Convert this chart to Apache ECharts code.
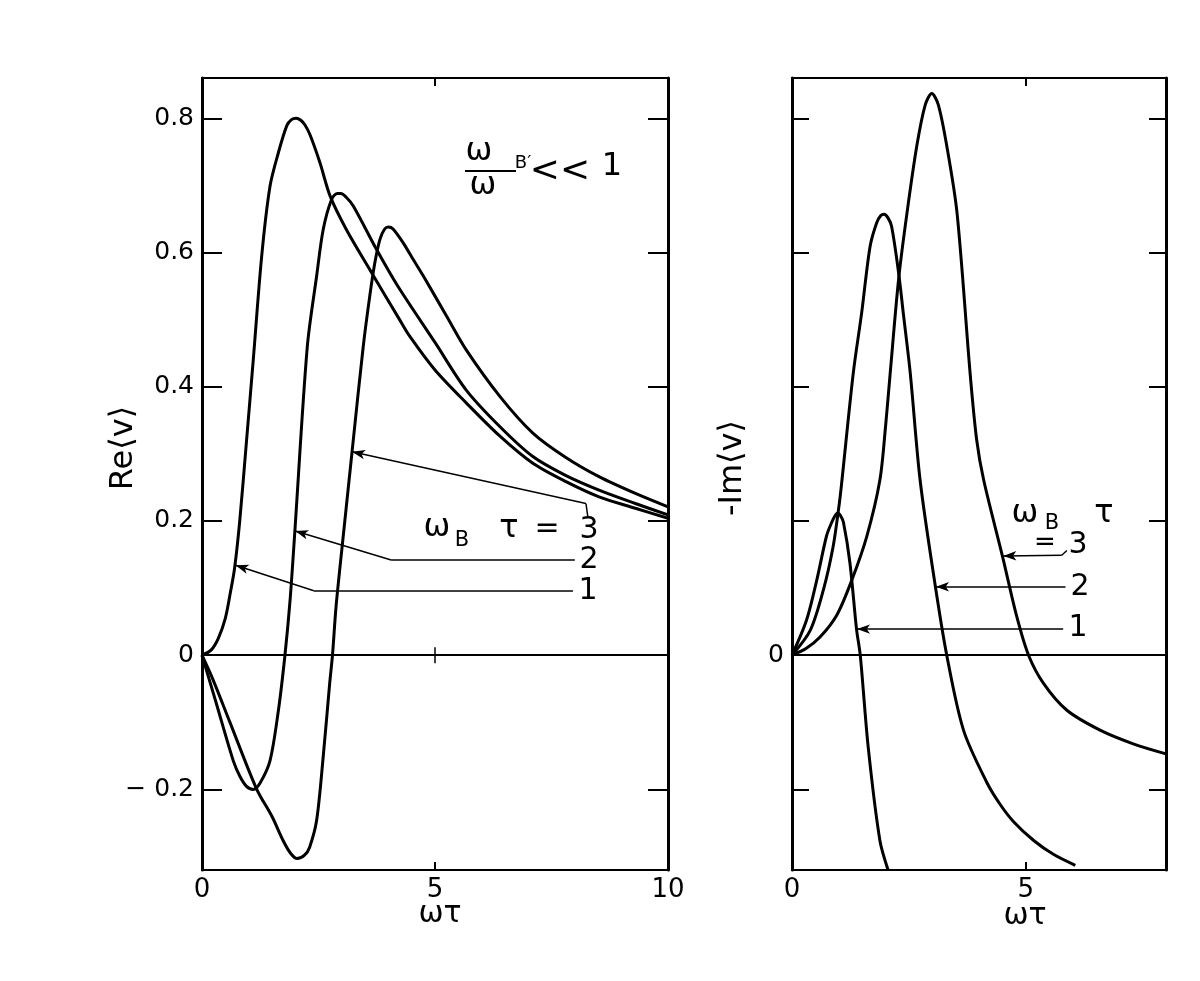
<!DOCTYPE html>
<html>
<head>
<meta charset="utf-8">
<script src="https://cdn.jsdelivr.net/npm/echarts@6.0.0/dist/echarts.min.js"></script>
<style>
  html, body { margin: 0; padding: 0; background: #fff; }
  #chart { width: 1200px; height: 981px; }
</style>
</head>
<body>
<div id="chart"></div>
<script>
// left panel: Re<v> against wt, one curve for each wB*tau
const reX1 = [0, 0.2, 0.35, 0.5, 0.6, 0.7, 0.81, 0.95, 1.1, 1.28, 1.46, 1.64, 1.82, 1.92, 2.02, 2.12, 2.21, 2.32, 2.53, 2.75, 3.1, 3.64, 4.24, 4.46, 5.0, 5.67, 6.4, 7.1, 7.8, 8.52, 9.3, 10];
const reY1 = [0, 0.008, 0.025, 0.055, 0.09, 0.13, 0.2, 0.315, 0.44, 0.594, 0.699, 0.749, 0.789, 0.798, 0.8, 0.797, 0.79, 0.775, 0.734, 0.684, 0.634, 0.57, 0.5, 0.475, 0.425, 0.376, 0.326, 0.286, 0.259, 0.236, 0.219, 0.204];

const reX2 = [0, 0.3, 0.67, 0.81, 0.95, 1.1, 1.25, 1.46, 1.64, 1.78, 1.89, 1.99, 2.26, 2.46, 2.6, 2.78, 2.9, 2.98, 3.1, 3.25, 3.75, 4.2, 5.0, 5.67, 6.4, 7.1, 7.8, 8.52, 9.3, 10];
const reY2 = [0, -0.07, -0.157, -0.18, -0.195, -0.2, -0.19, -0.157, -0.082, 0, 0.082, 0.182, 0.46, 0.565, 0.634, 0.679, 0.688, 0.688, 0.682, 0.669, 0.604, 0.55, 0.466, 0.395, 0.34, 0.296, 0.268, 0.246, 0.226, 0.209];

const reX3 = [0, 0.24, 0.6, 1.17, 1.5, 1.74, 1.9, 2.04, 2.2, 2.31, 2.46, 2.6, 2.74, 2.8, 2.88, 3.05, 3.22, 3.46, 3.6, 3.71, 3.82, 3.92, 4.0, 4.1, 4.32, 4.53, 4.75, 5.25, 5.67, 6.4, 7.1, 7.8, 8.52, 9.3, 10];
const reY3 = [0, -0.037, -0.1, -0.199, -0.24, -0.276, -0.295, -0.303, -0.298, -0.286, -0.246, -0.152, -0.042, 0, 0.075, 0.19, 0.303, 0.46, 0.535, 0.585, 0.62, 0.635, 0.638, 0.635, 0.614, 0.59, 0.565, 0.505, 0.455, 0.385, 0.331, 0.295, 0.266, 0.241, 0.221];

// right panel: -Im<v> against wt
const imX1 = [0, 0.31, 0.53, 0.74, 0.85, 0.93, 0.98, 1.03, 1.1, 1.24, 1.38, 1.46, 1.63, 1.88, 2.06];
const imY1 = [0, 0.052, 0.112, 0.178, 0.198, 0.209, 0.212, 0.209, 0.198, 0.137, 0.039, 0, -0.137, -0.276, -0.321];

const imX2 = [0, 0.39, 0.67, 0.88, 1.01, 1.06, 1.31, 1.49, 1.67, 1.81, 1.9, 1.97, 2.05, 2.13, 2.28, 2.38, 2.53, 2.74, 3.05, 3.31, 3.67, 4.17, 4.45, 4.74, 5.17, 5.6, 6.06];
const imY2 = [0, 0.037, 0.097, 0.162, 0.225, 0.255, 0.42, 0.51, 0.609, 0.644, 0.655, 0.657, 0.652, 0.639, 0.57, 0.51, 0.42, 0.261, 0.11, 0, -0.112, -0.19, -0.222, -0.248, -0.276, -0.297, -0.313];

const imX3 = [0, 0.3, 0.6, 0.96, 1.28, 1.6, 1.88, 2.0, 2.1, 2.28, 2.46, 2.67, 2.85, 2.99, 3.13, 3.31, 3.53, 3.81, 3.95, 4.1, 4.5, 4.81, 5.06, 5.38, 5.88, 6.6, 7.3, 8.0];
const imY3 = [0, 0.01, 0.027, 0.06, 0.112, 0.177, 0.261, 0.34, 0.42, 0.56, 0.659, 0.759, 0.82, 0.837, 0.82, 0.759, 0.659, 0.42, 0.321, 0.261, 0.148, 0.057, 0, -0.042, -0.082, -0.112, -0.132, -0.147];

// tick values
const yTicks = [-0.2, 0.2, 0.4, 0.6, 0.8];
const yLabelsLeft = [-0.2, 0, 0.2, 0.4, 0.6, 0.8];
const yLabelsRight = [0];
const xLabelsLeft = [0, 5, 10];
const xLabelsRight = [0, 5];

// leader lines, in data units (tip first)
const reLeader3 = [[3.22, 0.303], [8.24, 0.226], [8.28, 0.206]];
const reLeader2 = [[2.0, 0.185], [4.06, 0.142], [8.0, 0.142]];
const reLeader1 = [[0.72, 0.134], [2.4, 0.096], [7.96, 0.096]];
const imLeader3 = [[4.52, 0.148], [5.77, 0.149], [5.88, 0.156]];
const imLeader2 = [[3.08, 0.102], [5.85, 0.102]];
const imLeader1 = [[1.39, 0.039], [5.8, 0.039]];

function zip(xs, ys) {
  return xs.map((x, i) => [x, ys[i]]);
}

// one polyline -> markLine segments, arrow head on the tip
function leader(pts) {
  let segs = [];
  for (let i = 0; i < pts.length - 1; i++) {
    segs.push([
      {coord: pts[i], symbol: i === 0 ? 'arrow' : 'none', symbolSize: [7, 13]},
      {coord: pts[i + 1], symbol: 'none'}
    ]);
  }
  return segs;
}

const FONT = '"DejaVu Sans", sans-serif';

function xAxisFor(grid, pos, max, labels) {
  return {
    type: 'value', gridIndex: grid, position: pos, min: 0, max: max,
    axisLine: {show: true, onZero: false, lineStyle: {color: '#000', width: 2}},
    axisTick: {show: true, inside: true, length: 8, customValues: [5], lineStyle: {color: '#000', width: 2}},
    axisLabel: labels ? {show: true, customValues: labels, color: '#000', fontSize: 26, fontFamily: FONT, margin: 7} : {show: false},
    splitLine: {show: false}
  };
}

function yAxisFor(grid, pos, tickLen, labels) {
  return {
    type: 'value', gridIndex: grid, position: pos, min: -0.32, max: 0.86,
    axisLine: {show: true, onZero: false, lineStyle: {color: '#000', width: 3}},
    axisTick: {show: true, inside: true, length: tickLen, customValues: yTicks, lineStyle: {color: '#000', width: 2}},
    axisLabel: labels ? {
      show: true, customValues: labels, color: '#000', fontSize: 25, fontFamily: FONT, margin: 8,
      formatter: v => v === 0 ? '0' : (v < 0 ? '\u2212 ' + Math.abs(v).toFixed(1) : v.toFixed(1))
    } : {show: false},
    splitLine: {show: false}
  };
}

function curve(name, xi, yi, data, mark) {
  let s = {
    name: name, type: 'line', xAxisIndex: xi, yAxisIndex: yi,
    data: data, showSymbol: false, smooth: 0.3,
    lineStyle: {color: '#000', width: 3}
  };
  if (mark) s.markLine = mark;
  return s;
}

function marks(lines, extra) {
  return {
    silent: true, animation: false, symbol: ['none', 'none'],
    label: {show: false},
    lineStyle: {color: '#000', width: 1.5, type: 'solid'},
    data: [{yAxis: 0, lineStyle: {width: 2}}].concat(extra || []).concat(lines)
  };
}

function txt(x, y, text, size, extra) {
  return Object.assign({
    type: 'text', x: x, y: y,
    style: {text: text, font: size + 'px ' + FONT, fill: '#000', align: 'center', verticalAlign: 'middle'}
  }, extra || {});
}

let option = {
  animation: false,
  backgroundColor: '#fff',
  grid: [
    {left: 202, top: 78, width: 466, height: 792},
    {left: 792, top: 78, width: 374, height: 792}
  ],
  xAxis: [
    xAxisFor(0, 'bottom', 10, xLabelsLeft),
    xAxisFor(0, 'top', 10, null),
    xAxisFor(1, 'bottom', 8, xLabelsRight),
    xAxisFor(1, 'top', 8, null)
  ],
  yAxis: [
    yAxisFor(0, 'left', 20, yLabelsLeft),
    yAxisFor(0, 'right', 20, null),
    yAxisFor(1, 'left', 17, yLabelsRight),
    yAxisFor(1, 'right', 17, null)
  ],
  series: [
    curve('re1', 0, 0, zip(reX1, reY1), marks(
      [].concat(leader(reLeader3), leader(reLeader2), leader(reLeader1)),
      [[{coord: [5, -0.012]}, {coord: [5, 0.012]}]]
    )),
    curve('re2', 0, 0, zip(reX2, reY2)),
    curve('re3', 0, 0, zip(reX3, reY3)),
    curve('im1', 2, 2, zip(imX1, imY1), marks(
      [].concat(leader(imLeader3), leader(imLeader2), leader(imLeader1))
    )),
    curve('im2', 2, 2, zip(imX2, imY2)),
    curve('im3', 2, 2, zip(imX3, imY3))
  ],
  graphic: [
    // axis names
    txt(124, 448, 'Re\u27e8v\u27e9', 32, {rotation: Math.PI / 2}),
    txt(733, 468, '-Im\u27e8v\u27e9', 32, {rotation: Math.PI / 2}),
    txt(440, 914, '\u03c9\u03c4', 30),
    txt(1025, 916, '\u03c9\u03c4', 30),
    // wB'/w << 1
    txt(479, 152, '\u03c9', 32),
    {type: 'line', shape: {x1: 465, y1: 171, x2: 516, y2: 171}, style: {stroke: '#000', lineWidth: 2}},
    txt(483, 186, '\u03c9', 32),
    txt(523, 163, 'B\u2032', 18),
    txt(560, 172, '<<', 36),
    txt(612, 167, '1', 32),
    // left labels
    txt(437, 528, '\u03c9', 32),
    txt(462, 541, 'B', 21),
    txt(509, 529, '\u03c4', 32),
    txt(547, 529, '=', 30),
    txt(589, 530, '3', 30),
    txt(589, 560, '2', 30),
    txt(588, 591, '1', 30),
    // right labels
    txt(1025, 514, '\u03c9', 32),
    txt(1052, 524, 'B', 21),
    txt(1104, 514, '\u03c4', 32),
    txt(1045, 543, '=', 26),
    txt(1078, 545, '3', 30),
    txt(1080, 587, '2', 30),
    txt(1078, 628, '1', 30)
  ]
};

let myChart = echarts.init(document.getElementById('chart'));
myChart.setOption(option);
</script>
</body>
</html>
